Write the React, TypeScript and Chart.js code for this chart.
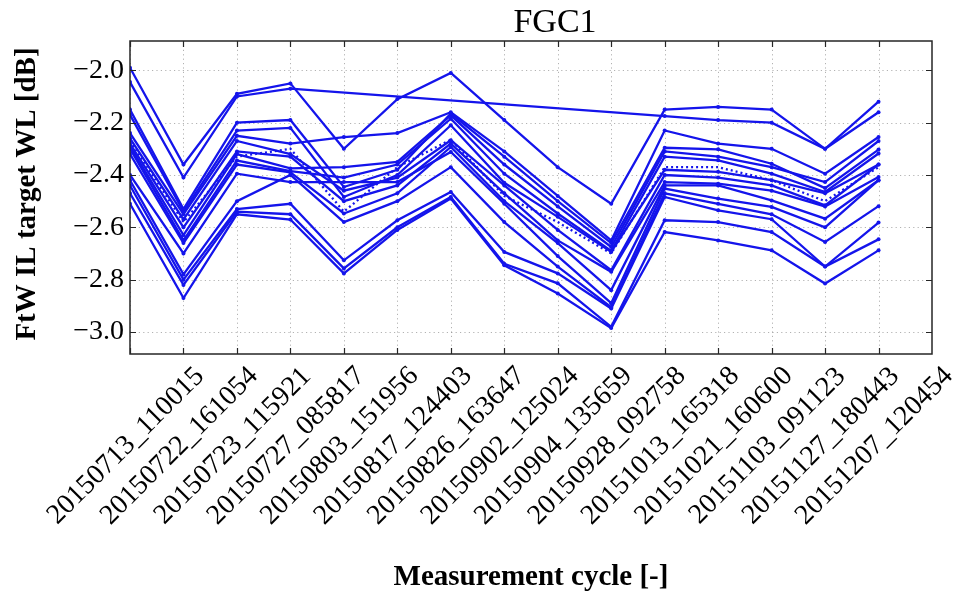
import React, { useEffect, useRef } from 'react';
import { Chart, registerables } from 'chart.js';

Chart.register(...registerables);

// Measurement cycles (x categories)
const cycles = [
  '20150713_110015', '20150722_161054', '20150723_115921', '20150727_085817',
  '20150803_151956', '20150817_124403', '20150826_163647', '20150902_125024',
  '20150904_135659', '20150928_092758', '20151013_165318', '20151021_160600',
  '20151103_091123', '20151127_180443', '20151207_120454',
];

const yTicks = [-3.0, -2.8, -2.6, -2.4, -2.2, -2.0];
const xRange = [0, 15];
const yRange = [-3.084, -1.888];

const titleText = 'FGC1';
const xTitle = 'Measurement cycle [-]';
const yTitle = 'FtW IL target WL [dB]';

// FtW insertion loss per channel [dB]
const trace01 = [-1.99, -2.36, -2.09, -2.05, -2.30, -2.11, -2.01, -2.19, -2.37, -2.51, -2.15, -2.14, -2.15, -2.30, -2.12];
const trace02 = [-2.045, -2.41, -2.10, -2.07, null, null, null, null, null, null, -2.175, -2.19, -2.20, -2.30, -2.16];
const trace03 = [-2.15, -2.53, -2.20, -2.19, -2.446, -2.38, -2.165, -2.33, -2.50, -2.66, -2.296, -2.302, -2.357, -2.45, -2.303];
const trace04 = [-2.17, -2.54, -2.23, -2.22, -2.484, -2.40, -2.21, -2.43, -2.56, -2.694, -2.38, -2.388, -2.42, -2.47, -2.36];
const trace05 = [-2.24, -2.55, -2.25, -2.28, -2.255, -2.24, -2.16, -2.31, -2.48, -2.65, -2.23, -2.28, -2.30, -2.395, -2.255];
const trace06 = [-2.26, -2.57, -2.27, -2.32, -2.46, -2.41, -2.267, -2.44, -2.61, -2.764, -2.40, -2.41, -2.44, -2.516, -2.36];
const trace07 = [-2.28, -2.60, -2.31, -2.33, -2.50, -2.44, -2.28, -2.47, -2.65, -2.77, -2.427, -2.433, -2.46, -2.52, -2.408];
const trace08 = [-2.29, -2.63, -2.32, -2.375, -2.37, -2.35, -2.172, -2.36, -2.52, -2.675, -2.31, -2.33, -2.37, -2.427, -2.27];
const trace09 = [-2.30, -2.65, -2.345, -2.385, -2.41, -2.36, -2.185, -2.395, -2.547, -2.69, -2.33, -2.344, -2.395, -2.465, -2.318];
const trace10 = [-2.32, -2.66, -2.36, -2.39, -2.547, -2.47, -2.293, -2.50, -2.66, -2.84, -2.44, -2.44, -2.497, -2.567, -2.42];
const trace11 = [-2.40, -2.70, -2.395, -2.427, -2.427, -2.427, -2.312, -2.51, -2.71, -2.89, -2.452, -2.49, -2.522, -2.60, -2.42];
const trace12 = [-2.42, -2.78, -2.50, -2.40, -2.58, -2.50, -2.37, -2.58, -2.75, -2.905, -2.47, -2.51, -2.55, -2.656, -2.519];
const trace13 = [-2.44, -2.80, -2.53, -2.51, -2.726, -2.573, -2.465, -2.694, -2.776, -2.91, -2.484, -2.535, -2.569, -2.75, -2.582];
const trace14 = [-2.47, -2.82, -2.54, -2.55, -2.757, -2.60, -2.484, -2.739, -2.814, -2.98, -2.573, -2.58, -2.618, -2.75, -2.646];
const trace15 = [-2.51, -2.87, -2.55, -2.57, -2.776, -2.61, -2.49, -2.745, -2.853, -2.985, -2.618, -2.65, -2.688, -2.815, -2.688];
const trace16 = [-2.27, -2.58, -2.33, -2.30, -2.54, -2.37, -2.265, -2.48, -2.58, -2.70, -2.37, -2.37, -2.42, -2.50, -2.37];

const solidTraces = [
  trace01, trace02, trace03, trace04, trace05, trace06, trace07, trace08,
  trace09, trace10, trace11, trace12, trace13, trace14, trace15,
];
const dottedTraces = [trace16];

const BLUE = 'rgb(20,20,235)';
const SERIF = '"Liberation Serif", "Times New Roman", serif';

const fmtTick = (v: number) => (v < 0 ? '\u2212' : '') + Math.abs(v).toFixed(1);

const axesPlugin = {
  id: 'classicAxes',
  beforeDatasetsDraw(chart: any) {
    const { ctx, chartArea: a, scales } = chart;
    const x = scales.x;
    const y = scales.y;
    ctx.save();
    ctx.strokeStyle = 'rgba(0,0,0,0.3)';
    ctx.lineWidth = 1;
    ctx.setLineDash([1.2, 3.2]);
    ctx.beginPath();
    cycles.forEach((_, i) => {
      const px = Math.round(x.getPixelForValue(i)) + 0.5;
      ctx.moveTo(px, a.top);
      ctx.lineTo(px, a.bottom);
    });
    yTicks.forEach((v) => {
      const py = Math.round(y.getPixelForValue(v)) + 0.5;
      ctx.moveTo(a.left, py);
      ctx.lineTo(a.right, py);
    });
    ctx.stroke();
    ctx.restore();
  },
  afterDatasetsDraw(chart: any) {
    const { ctx, chartArea: a, scales } = chart;
    const x = scales.x;
    const y = scales.y;
    ctx.save();

    // frame and inward ticks on all four sides
    ctx.strokeStyle = '#262626';
    ctx.lineWidth = 1.5;
    ctx.strokeRect(a.left, a.top, a.right - a.left, a.bottom - a.top);
    ctx.lineWidth = 1.2;
    ctx.beginPath();
    const tl = 6;
    cycles.forEach((_, i) => {
      const px = Math.round(x.getPixelForValue(i)) + 0.5;
      ctx.moveTo(px, a.top);
      ctx.lineTo(px, a.top + tl);
      ctx.moveTo(px, a.bottom);
      ctx.lineTo(px, a.bottom - tl);
    });
    yTicks.forEach((v) => {
      const py = Math.round(y.getPixelForValue(v)) + 0.5;
      ctx.moveTo(a.left, py);
      ctx.lineTo(a.left + tl, py);
      ctx.moveTo(a.right, py);
      ctx.lineTo(a.right - tl, py);
    });
    ctx.stroke();

    ctx.fillStyle = '#000';

    // y tick labels
    ctx.font = `28px ${SERIF}`;
    ctx.textAlign = 'right';
    ctx.textBaseline = 'middle';
    yTicks.forEach((v) => {
      ctx.fillText(fmtTick(v), a.left - 6, y.getPixelForValue(v));
    });

    // x tick labels, rotated 45 degrees and centred on the tick
    ctx.textAlign = 'center';
    cycles.forEach((label, i) => {
      const px = x.getPixelForValue(i) - 4;
      ctx.save();
      ctx.translate(px, 446);
      ctx.rotate(-Math.PI / 4);
      ctx.fillText(label, 0, 0);
      ctx.restore();
    });

    // title
    ctx.font = `34px ${SERIF}`;
    ctx.textBaseline = 'alphabetic';
    ctx.fillText(titleText, 555, 32);

    // axis titles
    ctx.font = `bold 29px ${SERIF}`;
    ctx.fillText(xTitle, (a.left + a.right) / 2, 585);
    ctx.save();
    ctx.translate(35, 194);
    ctx.rotate(-Math.PI / 2);
    ctx.fillText(yTitle, 0, 0);
    ctx.restore();

    ctx.restore();
  },
};

export default function App() {
  const canvasRef = useRef<HTMLCanvasElement | null>(null);

  useEffect(() => {
    document.body.style.margin = '0';
    const canvas = canvasRef.current;
    if (!canvas) return;

    const toPoints = (vals: (number | null)[]) => vals.map((v, i) => ({ x: i, y: v }));

    const datasets: any[] = [
      ...solidTraces.map((vals, k) => ({
        label: `trace ${k + 1}`,
        data: toPoints(vals),
        borderColor: BLUE,
        backgroundColor: BLUE,
        borderWidth: 2.3,
        pointRadius: 2,
        pointBorderWidth: 0,
        pointBackgroundColor: BLUE,
        spanGaps: true,
        tension: 0,
      })),
      ...dottedTraces.map((vals, k) => ({
        label: `dotted ${k + 1}`,
        data: toPoints(vals),
        borderColor: BLUE,
        borderWidth: 2.3,
        borderDash: [2, 3],
        pointRadius: 0,
        spanGaps: true,
        tension: 0,
      })),
    ];

    const chart = new Chart(canvas, {
      type: 'line',
      data: { datasets },
      options: {
        animation: false,
        responsive: false,
        devicePixelRatio: 1,
        layout: { padding: { left: 130, right: 27, top: 41, bottom: 243 } },
        scales: {
          x: { type: 'linear', min: xRange[0], max: xRange[1], display: false },
          y: { type: 'linear', min: yRange[0], max: yRange[1], display: false },
        },
        plugins: {
          legend: { display: false },
          tooltip: { enabled: false },
        },
      },
      plugins: [axesPlugin],
    });

    return () => chart.destroy();
  }, []);

  return (
    <div style={{ width: 959, height: 597, background: '#fff' }}>
      <canvas ref={canvasRef} width={959} height={597} style={{ display: 'block' }} />
    </div>
  );
}
